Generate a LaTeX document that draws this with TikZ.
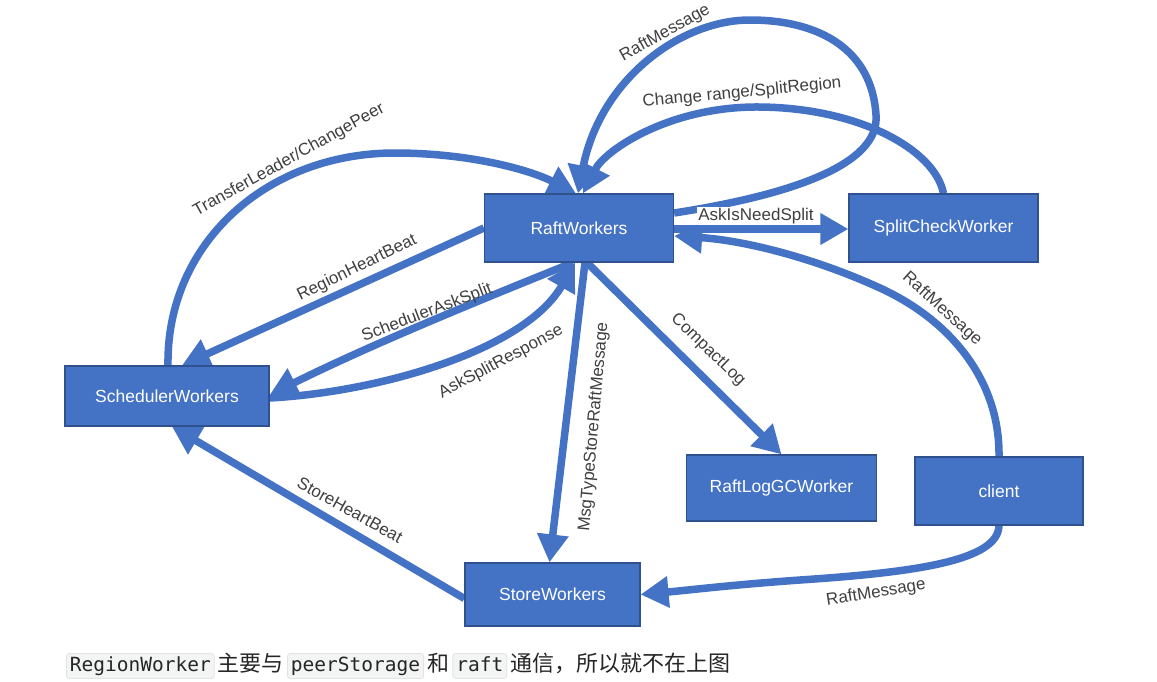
\documentclass[tikz,border=0pt]{standalone}
\usepackage{fontspec}
\setmainfont{Liberation Sans}
\newfontfamily\cjkfont{Noto Sans CJK SC}
\newfontfamily\codefont{DejaVu Sans Mono}
\usetikzlibrary{arrows.meta,calc,backgrounds}
\definecolor{boxblue}{HTML}{4472C4}
\definecolor{boxedge}{HTML}{2F528F}
\definecolor{lbl}{HTML}{404040}
\definecolor{codebg}{HTML}{F3F4F4}
\definecolor{codeedge}{HTML}{E3E3E3}
\definecolor{captext}{HTML}{262626}
\begin{document}
\begin{tikzpicture}[x=1pt,y=-1pt,
  box/.style={draw=boxedge, line width=1.2pt, fill=boxblue, text=white,
    font=\fontsize{17.5}{20}\selectfont, inner sep=0pt},
  conn/.style={draw=boxblue, line width=7.5pt, -{Triangle[length=28pt,width=30pt]}},
  elabel/.style={text=lbl, font=\fontsize{17}{20}\selectfont, inner sep=1pt},
  codebox/.style={draw=codeedge, fill=codebg, rounded corners=3pt, line width=0.8pt,
    font=\codefont\fontsize{19.5}{22}\selectfont, text=captext,
    inner xsep=3.5pt, inner ysep=2.5pt, text height=15pt, text depth=5pt},
  cjk/.style={font=\cjkfont\fontsize{22}{26}\selectfont, text=captext,
    inner xsep=3pt, inner ysep=0pt}]
\useasboundingbox (0,0) rectangle (1157,681);

% nodes
\node[box, minimum width=189pt, minimum height=68pt] (raft) at (579,228) {RaftWorkers};
\node[box, minimum width=189pt, minimum height=68pt] (split) at (943.5,228) {SplitCheckWorker};
\node[box, minimum width=204pt, minimum height=60pt] (sched) at (167,396) {SchedulerWorkers};
\node[box, minimum width=190pt, minimum height=66pt] (gc) at (781.5,488) {RaftLogGCWorker};
\node[box, minimum width=168pt, minimum height=68pt] (client) at (999,491) {client};
\node[box, minimum width=175pt, minimum height=63pt] (store) at (552.5,594.5) {StoreWorkers};

\begin{scope}[on background layer]
\fill[white] (0,0) rectangle (1157,681);
% RaftMessage self loop
\draw[conn] ($(raft.east)+(0,-15)$) .. controls (790,195) and (880,165) .. (876,115)
  .. controls (872,50) and (820,20) .. (750,20)
  .. controls (680,20) and (600,80) .. ($(raft.north)+(-1,0)$);
% Change range/SplitRegion
\draw[conn] (split.north) .. controls (935,150) and (860,108) .. (760,107)
  .. controls (670,106) and (605,150) .. ($(raft.north)+(4,0)$);
% TransferLeader/ChangePeer
\draw[conn] ($(sched.north)+(1,0)$) .. controls (166,245) and (265,153) .. (395,153)
  .. controls (470,153) and (530,170) .. ($(raft.north)+(-3,0)$);
% RegionHeartBeat
\draw[conn] (raft.west) -- ($(sched.north)+(15,0)$);
% SchedulerAskSplit
\draw[conn] ($(raft.south)+(-6,0)$) .. controls (480,300) and (370,345) .. ($(sched.east)+(0,-1)$);
% AskSplitResponse
\draw[conn] ($(sched.east)+(0,2)$) .. controls (380,392) and (525,350) .. ($(raft.south)+(-4,0)$);
% MsgTypeStoreRaftMessage
\draw[conn] ($(raft.south)+(6,0)$) -- ($(store.north)+(-3,0)$);
% CompactLog
\draw[conn] ($(raft.south)+(8,0)$) -- (gc.north);
% AskIsNeedSplit
\draw[conn] ($(raft.east)+(0,1)$) -- ($(split.west)+(0,1)$);
% client -> RaftWorkers
\draw[conn] (client.north) .. controls (1000,380) and (950,320) .. (880,288)
  .. controls (810,256) and (740,240) .. ($(raft.east)+(0,8)$);
% client -> StoreWorkers
\draw[conn] (client.south) .. controls (998,560) and (920,572) .. (800,580)
  .. controls (730,585) and (690,590) .. (store.east);
% StoreHeartBeat
\draw[conn] ($(store.west)+(0,4)$) -- ($(sched.south)+(5,0)$);
\end{scope}

% edge labels
\node[elabel, rotate=29] (l1) at (665,33) {RaftMessage};
\node[elabel, rotate=5.5] (l2) at (742,93) {Change range/SplitRegion};
\node[elabel, rotate=29] (l3) at (289,160) {TransferLeader/ChangePeer};
\node[elabel, rotate=26] (l4) at (357,268) {RegionHeartBeat};
\node[elabel, rotate=21] (l5) at (427,313) {SchedulerAskSplit};
\node[elabel, rotate=28] (l6) at (501,362) {AskSplitResponse};
\node[elabel, rotate=85] (l7) at (594,427) {MsgTypeStoreRaftMessage};
\node[elabel, rotate=-44] (l8) at (708,350) {CompactLog};
\node[elabel, fill=white] (l9) at (756,216) {AskIsNeedSplit};
\node[elabel, rotate=-42] (l10) at (942,309) {RaftMessage};
\node[elabel, rotate=-29] (l11) at (350,510) {StoreHeartBeat};
\node[elabel, rotate=9] (l12) at (876,593) {RaftMessage};

% caption
\node[codebox, anchor=base west] (c1) at (66,671) {RegionWorker};
\node[cjk, anchor=base west] (t1) at (c1.base east) {主要与};
\node[codebox, anchor=base west] (c2) at (t1.base east) {peerStorage};
\node[cjk, anchor=base west] (t2) at (c2.base east) {和};
\node[codebox, anchor=base west] (c3) at (t2.base east) {raft};
\node[cjk, anchor=base west] (t3) at (c3.base east) {通信，所以就不在上图};
\end{tikzpicture}
\end{document}
